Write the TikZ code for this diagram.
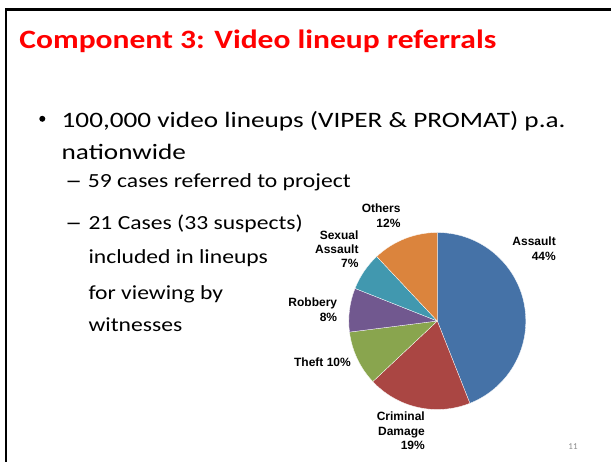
\documentclass[tikz,border=0pt]{standalone}
\usepackage{fontspec}
\setmainfont{Carlito}
\newfontfamily\titlefont[FakeStretch=1.19]{Carlito}
\newfontfamily\mainfont[FakeStretch=1.237]{Carlito}
\newfontfamily\subfont[FakeStretch=1.18]{Carlito}
\newfontfamily\arialfont{Liberation Sans}
\definecolor{cAssault}{HTML}{4572A7}
\definecolor{cCriminal}{HTML}{AA4643}
\definecolor{cTheft}{HTML}{89A54E}
\definecolor{cRobbery}{HTML}{71588F}
\definecolor{cSexual}{HTML}{4198AF}
\definecolor{cOthers}{HTML}{DB843D}
\definecolor{titlered}{HTML}{FF0000}
\definecolor{pagegray}{HTML}{8C8C8C}
\begin{document}
\begin{tikzpicture}[x=1pt,y=1pt,
  titletxt/.style={anchor=base west, inner sep=0pt, text=titlered, font=\titlefont\bfseries\fontsize{26.5}{32}\selectfont},
  txt/.style={anchor=base west, inner sep=0pt, font=\mainfont\fontsize{22}{26}\selectfont},
  subtxt/.style={anchor=base west, inner sep=0pt, font=\subfont\fontsize{20}{24}\selectfont},
  dashtxt/.style={anchor=base west, inner sep=0pt, font=\arialfont\fontsize{22}{26}\selectfont},
  bulletdot/.style={circle, fill=black, inner sep=0pt, minimum size=6pt},
  lbl/.style={anchor=north east, inner sep=0pt, align=right, font=\arialfont\bfseries\fontsize{12}{14.3}\selectfont},
  slice/.style={draw=white, line width=0.3pt}]
\useasboundingbox (0,0) rectangle (611,461);
\fill[white] (0,0) rectangle (611,461);
\draw[line width=2.6pt] (5.8,-10) -- (5.8,451.5) -- (620,451.5);

% title
\node[titletxt] (title) at (19.3,412.7) {Component 3: Video lineup referrals};

% bullets
\node[bulletdot] (b1) at (42.3,342.2) {};
\node[txt] (t1) at (61.5,333.7) {100,000 video lineups (VIPER \& PROMAT) p.a.};
\node[txt] (t1b) at (61.5,301) {nationwide};
\node[dashtxt] (d1) at (67.5,273.7) {–};
\node[subtxt] (t2) at (87.7,273.7) {59 cases referred to project};
\node[dashtxt] (d2) at (67.5,231.7) {–};
\node[subtxt] (t3) at (88.3,231.7) {21 Cases (33 suspects)};
\node[subtxt] (t3b) at (88.3,197) {included in lineups};
\node[subtxt] (t3c) at (88.3,161.7) {for viewing by};
\node[subtxt] (t3d) at (88.3,129.3) {witnesses};

% pie
\coordinate (pc) at (437.3,140);
\def\R{88.5}
\filldraw[fill=cAssault, slice] (pc) -- ++(90:\R) arc[start angle=90, end angle=-68.4, radius=\R] -- cycle;
\filldraw[fill=cCriminal, slice] (pc) -- ++(-68.4:\R) arc[start angle=-68.4, end angle=-136.8, radius=\R] -- cycle;
\filldraw[fill=cTheft, slice] (pc) -- ++(-136.8:\R) arc[start angle=-136.8, end angle=-172.8, radius=\R] -- cycle;
\filldraw[fill=cRobbery, slice] (pc) -- ++(-172.8:\R) arc[start angle=-172.8, end angle=-201.6, radius=\R] -- cycle;
\filldraw[fill=cSexual, slice] (pc) -- ++(-201.6:\R) arc[start angle=-201.6, end angle=-226.8, radius=\R] -- cycle;
\filldraw[fill=cOthers, slice] (pc) -- ++(-226.8:\R) arc[start angle=-226.8, end angle=-270, radius=\R] -- cycle;

% labels
\node[lbl] (lAssault) at (556,224) {Assault\\44\%};
\node[lbl] (lOthers) at (400.7,257) {Others\\12\%};
\node[lbl] (lSexual) at (358.7,230.6) {Sexual\\Assault\\7\%};
\node[lbl] (lRobbery) at (337.3,163) {Robbery\\8\%};
\node[lbl] (lTheft) at (351,103) {Theft 10\%};
\node[lbl] (lCriminal) at (425,49) {Criminal\\Damage\\19\%};

% page number
\node[anchor=base, inner sep=0pt, text=pagegray, font=\fontsize{9}{11}\selectfont] (pnum) at (573,11.7) {11};
\end{tikzpicture}
\end{document}
